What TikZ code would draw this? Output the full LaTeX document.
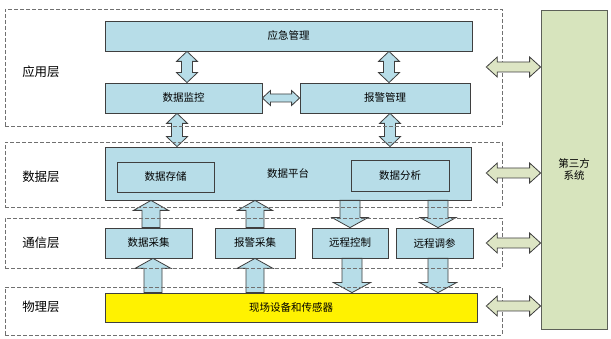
\documentclass[tikz,border=0pt]{standalone}
\usepackage{fontspec}
\newfontfamily\cjk{Noto Sans CJK SC}
\usetikzlibrary{calc}
\definecolor{boxblue}{HTML}{B7DDE8}
\definecolor{boxline}{HTML}{3F3F3F}
\definecolor{olivefill}{HTML}{D7E4BD}
\definecolor{olivearrow}{HTML}{DDE5C4}
\definecolor{dashgray}{HTML}{707070}
\tikzset{
  bbox/.style={draw=boxline, line width=0.8pt, fill=boxblue, inner sep=0pt, font=\cjk\fontsize{10.5}{12.5}\selectfont},
  ybox/.style={bbox, fill=yellow},
  obox/.style={bbox, fill=olivefill, draw=boxline!80!olivefill},
  frame/.style={draw=dashgray, dash pattern=on 4pt off 2pt, line width=0.6pt, inner sep=0pt},
  layerlabel/.style={font=\cjk\fontsize{12.5}{14}\selectfont},
  barrow/.style={draw=boxline, line width=0.8pt, fill=boxblue, line join=miter},
  garrow/.style={draw=boxline, line width=0.8pt, fill=olivearrow, line join=miter},
}
% vertical double arrow: #1 style, #2 top tip, #3 bottom tip, #4 shaft half, #5 head half, #6 head length
\newcommand\VDouble[6]{\draw[#1] let \p1=(#2), \p2=(#3) in
  (\x1,\y1) -- (\x1+#5,\y1-#6) -- (\x1+#4,\y1-#6) -- (\x1+#4,\y2+#6) -- (\x1+#5,\y2+#6) -- (\x1,\y2)
  -- (\x1-#5,\y2+#6) -- (\x1-#4,\y2+#6) -- (\x1-#4,\y1-#6) -- (\x1-#5,\y1-#6) -- cycle;}
% single up arrow: #2 tip (top), #3 base (bottom)
\newcommand\VUp[6]{\draw[#1] let \p1=(#2), \p2=(#3) in
  (\x1,\y1) -- (\x1+#5,\y1-#6) -- (\x1+#4,\y1-#6) -- (\x1+#4,\y2) -- (\x1-#4,\y2)
  -- (\x1-#4,\y1-#6) -- (\x1-#5,\y1-#6) -- cycle;}
% single down arrow: #2 base (top), #3 tip (bottom)
\newcommand\VDown[6]{\draw[#1] let \p1=(#2), \p2=(#3) in
  (\x1-#4,\y1) -- (\x1+#4,\y1) -- (\x1+#4,\y2+#6) -- (\x1+#5,\y2+#6) -- (\x1,\y2)
  -- (\x1-#5,\y2+#6) -- (\x1-#4,\y2+#6) -- cycle;}
% horizontal double arrow: #2 left tip, #3 right tip
\newcommand\HDouble[6]{\draw[#1] let \p1=(#2), \p2=(#3) in
  (\x1,\y1) -- (\x1+#6,\y1+#5) -- (\x1+#6,\y1+#4) -- (\x2-#6,\y1+#4) -- (\x2-#6,\y1+#5) -- (\x2,\y1)
  -- (\x2-#6,\y1-#5) -- (\x2-#6,\y1-#4) -- (\x1+#6,\y1-#4) -- (\x1+#6,\y1-#5) -- cycle;}
\begin{document}
\begin{tikzpicture}[x=1pt,y=-1pt]
\useasboundingbox[fill=white] (0,0) rectangle (611,339);

% boxes
\node[bbox, minimum width=367pt, minimum height=30pt] (yjgl) at (288.5,36) {应急管理};
\node[bbox, minimum width=157pt, minimum height=30pt] (sjjk) at (183.5,98) {数据监控};
\node[bbox, minimum width=170pt, minimum height=30pt] (bjgl) at (385,98) {报警管理};
\node[bbox, minimum width=366pt, minimum height=53pt] (sjpt) at (288,173.5) {数据平台};
\node[bbox, minimum width=97pt, minimum height=30pt] (sjcc) at (165.5,177) {数据存储};
\node[bbox, minimum width=98pt, minimum height=31pt] (sjfx) at (400,175.5) {数据分析};
\node[bbox, minimum width=87pt, minimum height=30pt] (sjcj) at (148.5,243) {数据采集};
\node[bbox, minimum width=80pt, minimum height=30pt] (bjcj) at (255,243) {报警采集};
\node[bbox, minimum width=76pt, minimum height=30pt] (yckz) at (350,243) {远程控制};
\node[bbox, minimum width=77pt, minimum height=30pt] (yctc) at (434.5,243) {远程调参};
\node[ybox, minimum width=372pt, minimum height=29pt] (xcsb) at (291,307.5) {现场设备和传感器};
\node[obox, minimum width=66pt, minimum height=319pt, align=center] (dsf) at (574,169.5) {第三方\\系统};

% block arrows
\VDouble{barrow}{yjgl.south -| 187,0}{sjjk.north -| 187,0}{5.5pt}{10.5pt}{10pt}
\VDouble{barrow}{yjgl.south -| 389,0}{bjgl.north -| 389,0}{5.5pt}{10.5pt}{10pt}
\HDouble{barrow}{sjjk.east}{bjgl.west}{4pt}{7.5pt}{8pt}
\VDouble{barrow}{sjjk.south -| 177,0}{sjpt.north -| 177,0}{5.5pt}{10.5pt}{10pt}
\VDouble{barrow}{bjgl.south -| 390,0}{sjpt.north -| 390,0}{5.5pt}{10.5pt}{10pt}
\VUp{barrow}{sjpt.south -| 151,0}{sjcj.north -| 151,0}{9pt}{17.5pt}{10pt}
\VUp{barrow}{sjpt.south -| 255,0}{bjcj.north -| 255,0}{9pt}{17.5pt}{10pt}
\VDown{barrow}{sjpt.south -| 350,0}{yckz.north -| 350,0}{10pt}{18pt}{10pt}
\VDown{barrow}{sjpt.south -| 438,0}{yctc.north -| 438,0}{10pt}{18pt}{10pt}
\VUp{barrow}{sjcj.south -| 153,0}{xcsb.north -| 153,0}{9pt}{18pt}{10pt}
\VUp{barrow}{bjcj.south -| 255,0}{xcsb.north -| 255,0}{9pt}{18pt}{10pt}
\VDown{barrow}{yckz.south -| 352,0}{xcsb.north -| 352,0}{10pt}{18.5pt}{10pt}
\VDown{barrow}{yctc.south -| 438,0}{xcsb.north -| 438,0}{10pt}{18.5pt}{10pt}

% layer frames
\node[frame, minimum width=497pt, minimum height=117pt] (L1) at (253.5,67.5) {};
\node[frame, minimum width=497pt, minimum height=65pt] (L2) at (253.5,174.5) {};
\node[frame, minimum width=497pt, minimum height=50pt] (L3) at (253.5,243) {};
\node[frame, minimum width=497pt, minimum height=48pt] (L4) at (253.5,311) {};

\node[layerlabel] (t1) at (41,72) {应用层};
\node[layerlabel] (t2) at (41,177) {数据层};
\node[layerlabel] (t3) at (41,243) {通信层};
\node[layerlabel] (t4) at (41,307) {物理层};

% arrows to third party
\HDouble{garrow}{$(L1.east |- 0,67)+(-16pt,0)$}{dsf.west |- 0,67}{5pt}{10pt}{11pt}
\HDouble{garrow}{$(L2.east |- 0,173)+(-16pt,0)$}{dsf.west |- 0,173}{5pt}{10pt}{11pt}
\HDouble{garrow}{$(L3.east |- 0,243)+(-16pt,0)$}{dsf.west |- 0,243}{5pt}{10pt}{11pt}
\HDouble{garrow}{$(L4.east |- 0,306)+(-16pt,0)$}{dsf.west |- 0,306}{5pt}{10pt}{11pt}
\end{tikzpicture}
\end{document}
